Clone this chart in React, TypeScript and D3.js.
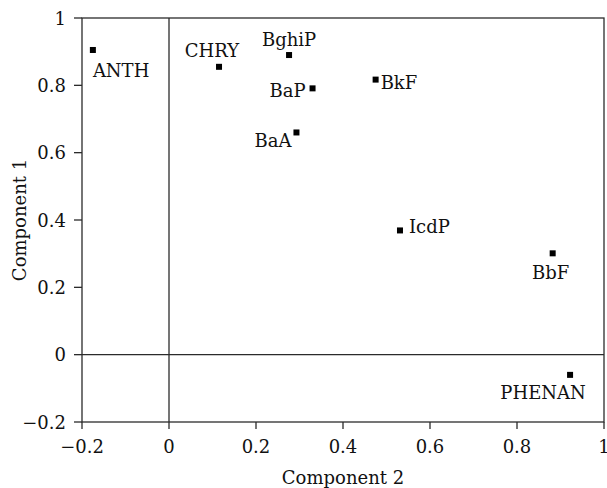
import React, { useEffect, useRef } from 'react';
import * as d3 from 'd3';

// loadings
const compounds = ['ANTH', 'CHRY', 'BghiP', 'BaP', 'BaA', 'BkF', 'IcdP', 'BbF', 'PHENAN'];
const component2 = [-0.175, 0.115, 0.276, 0.33, 0.293, 0.475, 0.531, 0.882, 0.922];
const component1 = [0.905, 0.855, 0.89, 0.791, 0.66, 0.817, 0.369, 0.301, -0.06];
const xTicks = [-0.2, 0, 0.2, 0.4, 0.6, 0.8, 1];
const yTicks = [-0.2, 0, 0.2, 0.4, 0.6, 0.8, 1];

// where each label sits relative to its marker
const labelPlace: Record<string, { anchor: string; dx: number; dy: number }> = {
  ANTH: { anchor: 'start', dx: 0, dy: 27 },
  CHRY: { anchor: 'end', dx: 20, dy: -10 },
  BghiP: { anchor: 'middle', dx: 0, dy: -9 },
  BaP: { anchor: 'end', dx: -7, dy: 9 },
  BaA: { anchor: 'end', dx: -5, dy: 15 },
  BkF: { anchor: 'start', dx: 5, dy: 9 },
  IcdP: { anchor: 'start', dx: 9, dy: 3 },
  BbF: { anchor: 'middle', dx: -2, dy: 26 },
  PHENAN: { anchor: 'middle', dx: -27, dy: 24 },
};

const W = 607;
const H = 488;
const FONT = "'DejaVu Serif', 'Liberation Serif', serif";

const fmt = (v: number) => (v < 0 ? '\u2212' + Math.abs(v) : String(v));

export default function App() {
  const svgRef = useRef<SVGSVGElement>(null);

  useEffect(() => {
    document.body.style.margin = '0';
    if (!svgRef.current) return;
    const svg = d3.select(svgRef.current);
    svg.selectAll('*').remove();

    const x = d3.scaleLinear().domain([-0.2, 1]).range([82, 604]);
    const y = d3.scaleLinear().domain([-0.2, 1]).range([422, 18]);
    const ink = '#2b2b2b';

    const g = svg.append('g').style('font-family', FONT).style('font-size', '18px').attr('fill', '#111');

    // frame
    g.append('rect')
      .attr('x', x(-0.2)).attr('y', y(1))
      .attr('width', x(1) - x(-0.2)).attr('height', y(-0.2) - y(1))
      .attr('fill', 'none').attr('stroke', ink).attr('stroke-width', 1.3);

    // zero lines
    g.append('line').attr('x1', x(0)).attr('x2', x(0)).attr('y1', y(1)).attr('y2', y(-0.2))
      .attr('stroke', ink).attr('stroke-width', 1.3);
    g.append('line').attr('x1', x(-0.2)).attr('x2', x(1)).attr('y1', y(0)).attr('y2', y(0))
      .attr('stroke', ink).attr('stroke-width', 1.3);

    // x ticks
    xTicks.forEach(t => {
      g.append('line').attr('x1', x(t)).attr('x2', x(t)).attr('y1', y(-0.2)).attr('y2', y(-0.2) + 7)
        .attr('stroke', ink).attr('stroke-width', 1.3);
      g.append('text').attr('x', x(t)).attr('y', 453).attr('text-anchor', 'middle').text(fmt(t));
    });

    // y ticks
    yTicks.forEach(t => {
      g.append('line').attr('x1', x(-0.2) - 8).attr('x2', x(-0.2)).attr('y1', y(t)).attr('y2', y(t))
        .attr('stroke', ink).attr('stroke-width', 1.3);
      g.append('text').attr('x', 66).attr('y', y(t) + 6.5).attr('text-anchor', 'end').text(fmt(t));
    });

    // axis titles
    g.append('text').attr('x', (x(-0.2) + x(1)) / 2).attr('y', 484).attr('text-anchor', 'middle').text('Component 2');
    g.append('text')
      .attr('transform', `translate(26, ${(y(1) + y(-0.2)) / 2}) rotate(-90)`)
      .attr('text-anchor', 'middle').text('Component 1');

    // points
    const pts = compounds.map((name, i) => ({ name, cx: x(component2[i]), cy: y(component1[i]) }));
    g.selectAll('.pt').data(pts).enter().append('rect')
      .attr('x', d => d.cx - 3).attr('y', d => d.cy - 3)
      .attr('width', 6).attr('height', 6).attr('fill', '#000');

    g.selectAll('.lbl').data(pts).enter().append('text')
      .attr('x', d => d.cx + labelPlace[d.name].dx)
      .attr('y', d => d.cy + labelPlace[d.name].dy)
      .attr('text-anchor', d => labelPlace[d.name].anchor)
      .text(d => d.name);
  }, []);

  return <svg ref={svgRef} width={W} height={H} style={{ display: 'block', background: '#fff' }} />;
}
